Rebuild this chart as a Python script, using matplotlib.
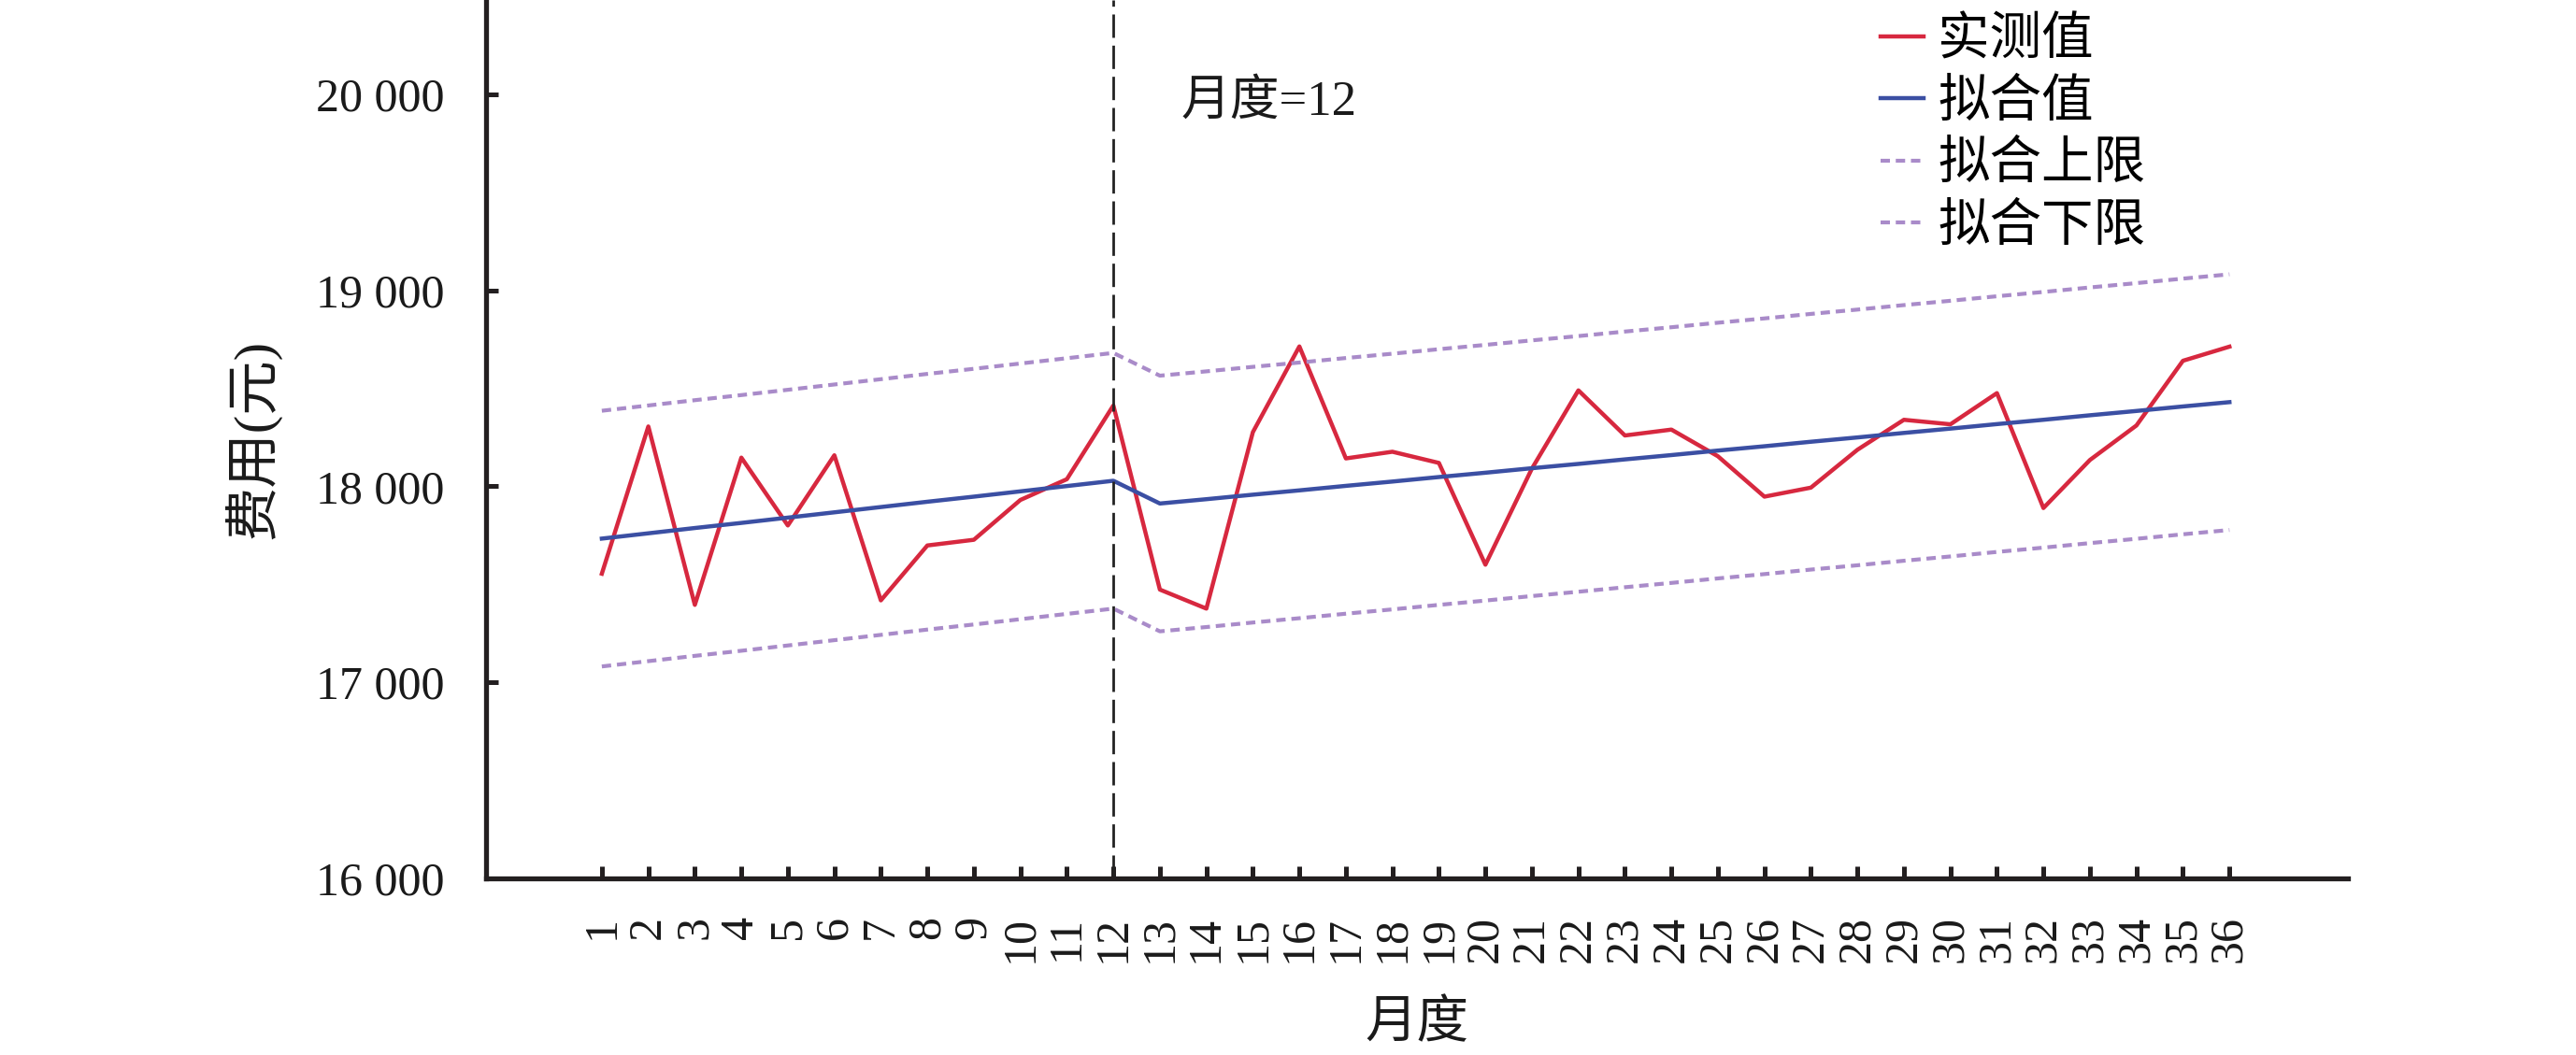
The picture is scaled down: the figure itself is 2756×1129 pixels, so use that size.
import matplotlib
matplotlib.use('Agg')
import matplotlib.pyplot as plt

plt.rcParams['font.family'] = ['Liberation Serif', 'Noto Sans CJK SC']

# data
months = list(range(1, 37))
actual = [17554, 18305, 17395, 18146, 17800, 18158, 17418, 17698, 17727, 17930,
          18036, 18412, 17473, 17376, 18276, 18713, 18142, 18176, 18119, 17600,
          18090, 18489, 18259, 18289, 18153, 17947, 17993, 18186, 18339, 18316,
          18475, 17889, 18134, 18310, 18640, 18712]
fitted = [17733, 17760, 17787, 17813, 17840, 17867, 17894, 17921, 17947, 17974,
          18001, 18028, 17912, 17934, 17957, 17979, 18002, 18024, 18047, 18069,
          18092, 18114, 18137, 18159, 18182, 18204, 18227, 18249, 18272, 18294,
          18317, 18339, 18362, 18384, 18407, 18429]
upper = [18385, 18412, 18439, 18465, 18492, 18519, 18546, 18573, 18599, 18626,
         18653, 18680, 18564, 18586, 18609, 18631, 18654, 18676, 18699, 18721,
         18744, 18766, 18789, 18811, 18834, 18856, 18879, 18901, 18924, 18946,
         18969, 18991, 19014, 19036, 19059, 19081]
lower = [17081, 17108, 17135, 17161, 17188, 17215, 17242, 17269, 17295, 17322,
         17349, 17376, 17260, 17282, 17305, 17327, 17350, 17372, 17395, 17417,
         17440, 17462, 17485, 17507, 17530, 17552, 17575, 17597, 17620, 17642,
         17665, 17687, 17710, 17732, 17755, 17777]
break_month = 12
y_ticks = [16000, 17000, 18000, 19000, 20000]
y_tick_labels = ['16 000', '17 000', '18 000', '19 000', '20 000']
series_labels = ['实测值', '拟合值', '拟合上限', '拟合下限']

fig = plt.figure(figsize=(27.56, 11.29), dpi=100)
ax = fig.add_axes([0.1885, 0.1674, 0.7230, 0.8326])

ax.plot(months, actual, color='#D7283F', lw=3.2, label=series_labels[0])
ax.plot(months, fitted, color='#3B4FA3', lw=3.2, label=series_labels[1])
ax.plot(months, upper, color='#A98BC9', lw=3.0, dashes=(2.4, 1.5), label=series_labels[2])
ax.plot(months, lower, color='#A98BC9', lw=3.0, dashes=(2.4, 1.5), label=series_labels[3])

# change point
ax.axvline(break_month, color='#222222', lw=2.0, dashes=(9, 3))
ax.text(13.45, 19960, '月度=12', fontsize=38, va='center', ha='left', color='#1a1a1a')

ax.set_xlim(-1.5, 38.55)
ax.set_ylim(16000, 20480)
ax.set_xticks(months)
ax.set_xticklabels([str(m) for m in months], rotation=90)
ax.set_yticks(y_ticks)
ax.set_yticklabels(y_tick_labels)

for s in ['top', 'right']:
    ax.spines[s].set_visible(False)
for s in ['left', 'bottom']:
    ax.spines[s].set_linewidth(3.8)
    ax.spines[s].set_color('#231f20')

ax.tick_params(axis='both', direction='in', length=9.5, width=3.6, color='#231f20',
               labelsize=36, labelcolor='#1a1a1a')
ax.tick_params(axis='y', pad=32)
ax.tick_params(axis='x', pad=29)

ax.set_xlabel('月度', fontsize=40, labelpad=29, color='#1a1a1a')
ax.set_ylabel('费用(元)', fontsize=42, labelpad=27, color='#1a1a1a')

fig.legend(loc='upper left', bbox_to_anchor=(0.730, 0.984), frameon=False,
           fontsize=40, handlelength=0.83, handletextpad=0.27, labelspacing=0.26,
           borderpad=0, borderaxespad=0)

fig.savefig('out.png', dpi=100)
